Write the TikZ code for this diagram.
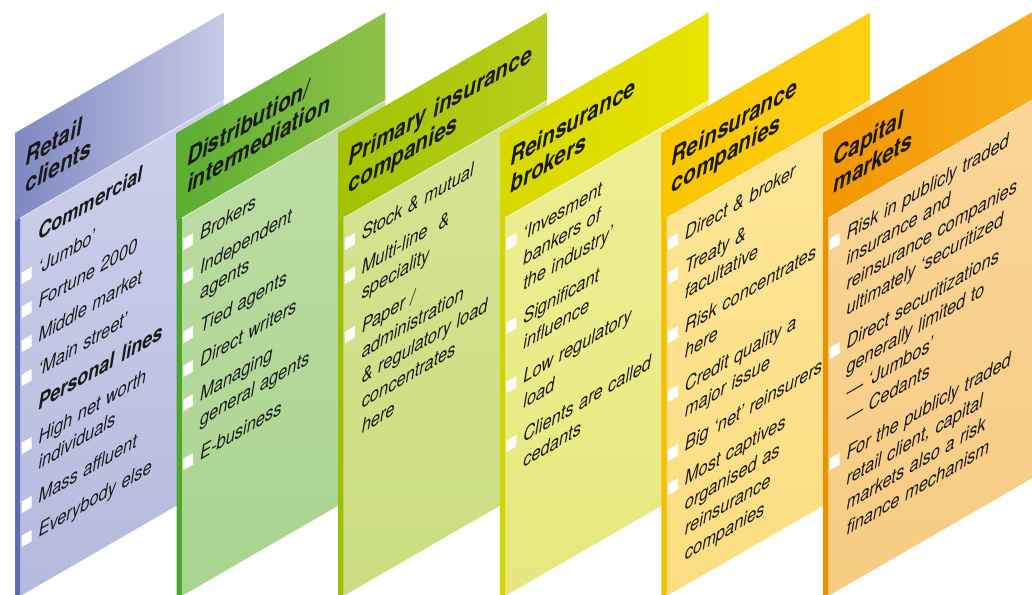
\documentclass[tikz,border=0pt]{standalone}
\usepackage{fontspec}
\setmainfont{TeX Gyre Heros}

\definecolor{retailDark}{HTML}{7D89C2}
\definecolor{retailLight}{HTML}{C7CAE6}
\definecolor{retailTop}{HTML}{CDD1EA}
\definecolor{retailBot}{HTML}{B4BADC}
\definecolor{retailEdge}{HTML}{5B6CB2}
\definecolor{distDark}{HTML}{5BAE31}
\definecolor{distLight}{HTML}{8FC247}
\definecolor{distTop}{HTML}{BEDDA5}
\definecolor{distBot}{HTML}{A9D48F}
\definecolor{distEdge}{HTML}{4DA72C}
\definecolor{primDark}{HTML}{A2C200}
\definecolor{primLight}{HTML}{B9CE1C}
\definecolor{primTop}{HTML}{D6E492}
\definecolor{primBot}{HTML}{CBDD80}
\definecolor{primEdge}{HTML}{9EBF00}
\definecolor{rbrokDark}{HTML}{D8D800}
\definecolor{rbrokLight}{HTML}{E8E400}
\definecolor{rbrokTop}{HTML}{EFEF95}
\definecolor{rbrokBot}{HTML}{E7E77E}
\definecolor{rbrokEdge}{HTML}{D3D300}
\definecolor{reinsDark}{HTML}{FAC400}
\definecolor{reinsLight}{HTML}{FED116}
\definecolor{reinsTop}{HTML}{FEE69A}
\definecolor{reinsBot}{HTML}{FCDD80}
\definecolor{reinsEdge}{HTML}{F6BE00}
\definecolor{capDark}{HTML}{F29500}
\definecolor{capLight}{HTML}{F8AE1C}
\definecolor{capTop}{HTML}{FAD699}
\definecolor{capBot}{HTML}{F7CB82}
\definecolor{capEdge}{HTML}{EE8F00}
\definecolor{ink}{HTML}{1A1A1A}

\newcommand\bul{\llap{\textcolor{white}{\rule{11.5pt}{11.5pt}}\hspace{8pt}}}

\begin{document}
\begin{tikzpicture}
    [ x=1pt, y=1pt
    , panel/.style={cm={0.866,0.5,0,1,(0,0)}}
    , headtext/.style={anchor=base west, inner sep=0pt, text width=230pt, align=left, transform shape, text=ink, font=\bfseries\itshape\fontsize{24}{26.5}\selectfont}
    , item/.style={anchor=base west, inner sep=0pt, text width=225pt, align=left, transform shape, text=ink, font=\itshape\fontsize{19}{25}\selectfont}
    , subhead/.style={item, font=\bfseries\itshape\fontsize{21}{25}\selectfont}
    , glint/.style={white, opacity=0.5, line width=1pt}
    ]
\useasboundingbox (0,0) rectangle (1032,594);
\clip (0,0) rectangle (1032,594);

% Retail clients
\begin{scope}[shift={(15,461)}, panel]
  \shade[left color=retailDark, right color=retailLight] (0,0) -- (241,0) -- (241,-88) -- (0,-88) -- cycle;
  \shade[top color=retailTop, bottom color=retailBot] (6,-88) -- (241,-88) -- (241,-466) -- (6,-466) -- cycle;
  \fill[retailEdge] (0,-88) -- (6,-88) -- (6,-466) -- (0,-466) -- cycle;
  \draw[glint] (6,-88) -- (241,-88);
  \node[headtext] (rethead) at (12,-40) {Retail\\clients};
  \node[subhead] (ret1) at (27,-121) {Commercial};
  \node[item] (ret2) at (27,-155) {\bul‘Jumbo’};
  \node[item] (ret3) at (27,-189) {\bul Fortune 2000};
  \node[item] (ret4) at (27,-223) {\bul Middle market};
  \node[item] (ret5) at (27,-257) {\bul‘Main street’};
  \node[subhead] (ret6) at (27,-291) {Personal lines};
  \node[item] (ret7) at (27,-325) {\bul High net worth\\individuals};
  \node[item] (ret8) at (27,-384) {\bul Mass affluent};
  \node[item] (ret9) at (27,-418) {\bul Everybody else};
\end{scope}

% Distribution
\begin{scope}[shift={(176.6,461)}, panel]
  \shade[left color=distDark, right color=distLight] (0,0) -- (241,0) -- (241,-88) -- (0,-88) -- cycle;
  \shade[top color=distTop, bottom color=distBot] (6,-88) -- (241,-88) -- (241,-466) -- (6,-466) -- cycle;
  \fill[distEdge] (0,-88) -- (6,-88) -- (6,-466) -- (0,-466) -- cycle;
  \draw[glint] (6,-88) -- (241,-88);
  \node[headtext] (dishead) at (12,-40) {Distribution/\\intermediation};
  \node[item] (dis1) at (27,-121) {\bul Brokers};
  \node[item] (dis2) at (27,-155) {\bul Independent\\agents};
  \node[item] (dis3) at (27,-214) {\bul Tied agents};
  \node[item] (dis4) at (27,-248) {\bul Direct writers};
  \node[item] (dis5) at (27,-282) {\bul Managing\\general agents};
  \node[item] (dis6) at (27,-341) {\bul E-business};
\end{scope}

% Primary insurers
\begin{scope}[shift={(338.2,461)}, panel]
  \shade[left color=primDark, right color=primLight] (0,0) -- (241,0) -- (241,-88) -- (0,-88) -- cycle;
  \shade[top color=primTop, bottom color=primBot] (6,-88) -- (241,-88) -- (241,-466) -- (6,-466) -- cycle;
  \fill[primEdge] (0,-88) -- (6,-88) -- (6,-466) -- (0,-466) -- cycle;
  \draw[glint] (6,-88) -- (241,-88);
  \node[headtext] (prihead) at (12,-40) {Primary insurance\\companies};
  \node[item] (pri1) at (27,-121) {\bul Stock \& mutual};
  \node[item] (pri2) at (27,-155) {\bul Multi-line~~\&\\speciality};
  \node[item] (pri3) at (27,-214) {\bul Paper /\\administration\\\& regulatory load\\concentrates\\here};
\end{scope}

% Reinsurance brokers
\begin{scope}[shift={(499.8,461)}, panel]
  \shade[left color=rbrokDark, right color=rbrokLight] (0,0) -- (241,0) -- (241,-88) -- (0,-88) -- cycle;
  \shade[top color=rbrokTop, bottom color=rbrokBot] (6,-88) -- (241,-88) -- (241,-466) -- (6,-466) -- cycle;
  \fill[rbrokEdge] (0,-88) -- (6,-88) -- (6,-466) -- (0,-466) -- cycle;
  \draw[glint] (6,-88) -- (241,-88);
  \node[headtext] (brohead) at (12,-40) {Reinsurance\\brokers};
  \node[item] (bro1) at (27,-121) {\bul‘Invesment\\bankers of\\the industry’};
  \node[item] (bro2) at (27,-205) {\bul Significant\\influence};
  \node[item] (bro3) at (27,-264) {\bul Low regulatory\\load};
  \node[item] (bro4) at (27,-323) {\bul Clients are called\\cedants};
\end{scope}

% Reinsurance companies
\begin{scope}[shift={(661.4,461)}, panel]
  \shade[left color=reinsDark, right color=reinsLight] (0,0) -- (241,0) -- (241,-88) -- (0,-88) -- cycle;
  \shade[top color=reinsTop, bottom color=reinsBot] (6,-88) -- (241,-88) -- (241,-466) -- (6,-466) -- cycle;
  \fill[reinsEdge] (0,-88) -- (6,-88) -- (6,-466) -- (0,-466) -- cycle;
  \draw[glint] (6,-88) -- (241,-88);
  \node[headtext] (reihead) at (12,-40) {Reinsurance\\companies};
  \node[item] (rei1) at (27,-121) {\bul Direct \& broker};
  \node[item] (rei2) at (27,-155) {\bul Treaty \&\\facultative};
  \node[item] (rei3) at (27,-214) {\bul Risk concentrates\\here};
  \node[item] (rei4) at (27,-273) {\bul Credit quality a\\major issue};
  \node[item] (rei5) at (27,-332) {\bul Big ‘net’ reinsurers};
  \node[item] (rei6) at (27,-366) {\bul Most captives\\organised as\\reinsurance\\companies};
\end{scope}

% Capital markets
\begin{scope}[shift={(823,461)}, panel]
  \shade[left color=capDark, right color=capLight] (0,0) -- (241,0) -- (241,-88) -- (0,-88) -- cycle;
  \shade[top color=capTop, bottom color=capBot] (6,-88) -- (241,-88) -- (241,-466) -- (6,-466) -- cycle;
  \fill[capEdge] (0,-88) -- (6,-88) -- (6,-466) -- (0,-466) -- cycle;
  \draw[glint] (6,-88) -- (241,-88);
  \node[headtext] (caphead) at (12,-40) {Capital\\markets};
  \node[item] (cap1) at (27,-121) {\bul Risk in publicly traded\\insurance and\\reinsurance companies\\ultimately ‘securitized};
  \node[item] (cap2) at (27,-230) {\bul Direct securitizations\\generally limited to\\— ‘Jumbos’\\— Cedants};
  \node[item] (cap3) at (27,-341) {\bul For the publicly traded\\retail client, capital\\markets also a risk\\finance mechanism};
\end{scope}

\end{tikzpicture}
\end{document}
